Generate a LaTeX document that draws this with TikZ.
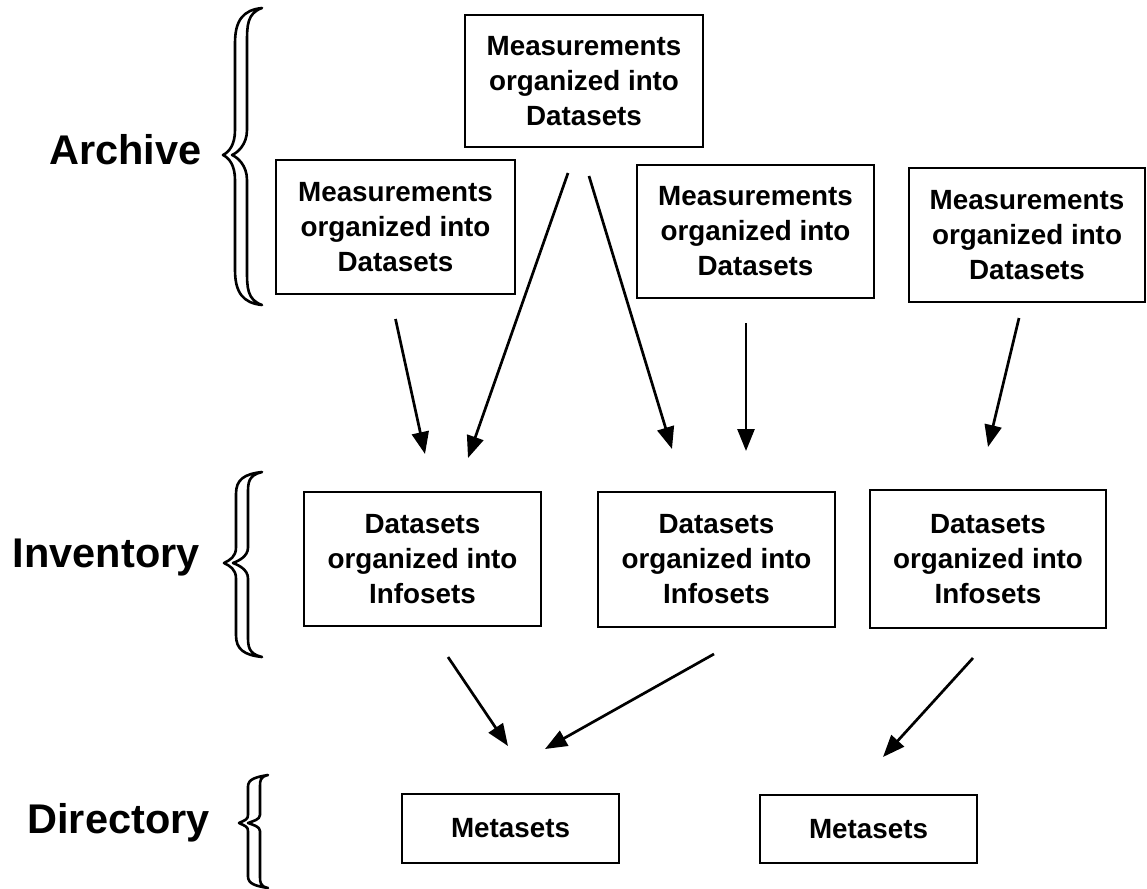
\documentclass[tikz,border=0pt]{standalone}
\usepackage{fontspec}
\setmainfont{Liberation Sans}
\usetikzlibrary{calc,arrows.meta}

% Hollow curly brace: tip x, top y, middle y, bottom y, spine x, middle tip x, half thickness
\newcommand{\hollowbrace}[7]{%
  \pgfmathsetmacro{\ba}{0.24*(#3-#2)}%
  \pgfmathsetmacro{\bb}{0.17*(#3-#2)}%
  \filldraw[bracestyle] (#1,#2)
    .. controls ({#5-#7+8},{#2+2}) and ({#5-#7},{#2+0.35*\ba}) .. ({#5-#7},{#2+\ba})
    -- ({#5-#7},{#3-\bb})
    .. controls ({#5-#7},{#3-0.4*\bb}) and ({#6+6},{#3-3}) .. (#6,#3)
    .. controls ({#6+6},{#3+3}) and ({#5-#7},{#3+0.4*\bb}) .. ({#5-#7},{#3+\bb})
    -- ({#5-#7},{#4-\ba})
    .. controls ({#5-#7},{#4-0.35*\ba}) and ({#5-#7+8},{#4-2}) .. (#1,#4)
    .. controls ({#5+#7},{#4-0.15*\ba}) and ({#5+#7},{#4-0.5*\ba}) .. ({#5+#7},{#4-\ba})
    -- ({#5+#7},{#3+\bb})
    .. controls ({#5+#7},{#3+0.4*\bb}) and ({#6+14},{#3+2}) .. ({#6+9},#3)
    .. controls ({#6+14},{#3-2}) and ({#5+#7},{#3-0.4*\bb}) .. ({#5+#7},{#3-\bb})
    -- ({#5+#7},{#2+\ba})
    .. controls ({#5+#7},{#2+0.5*\ba}) and ({#5+#7},{#2+0.15*\ba}) .. (#1,#2) -- cycle;}

\begin{document}
\begin{tikzpicture}[x=0.5pt,y=-0.5pt,
  box/.style={draw=black,line width=1pt,align=center,inner sep=0pt,
    font=\fontsize{13.9}{17.5}\selectfont\bfseries},
  layer/.style={anchor=east,inner sep=0pt,font=\fontsize{20.75}{24}\selectfont\bfseries},
  flow/.style={line width=1.35pt,-{Triangle[length=11pt,width=8.5pt]}},
  bracestyle/.style={draw=black,fill=white,line width=1.3pt,line join=round}]

\useasboundingbox (0,0) rectangle (1147,889);

% Layer labels and braces
\node[layer] (archive) at (202,150) {Archive};
\node[layer] (inventory) at (200,558) {Inventory};
\node[layer] (directory) at (210,823) {Directory};
\hollowbrace{262}{8}{155}{305}{241}{223}{6}
\hollowbrace{262}{472}{563}{657}{242}{224}{6}
\hollowbrace{268}{775}{823}{888}{254}{239}{6}

% Archive level
\node[box,minimum width=119pt,minimum height=66pt] (T) at (584,81)
  {Measurements\\organized into\\Datasets};
\node[box,minimum width=119.5pt,minimum height=67pt] (A1) at (395.5,227)
  {Measurements\\organized into\\Datasets};
\node[box,minimum width=118.5pt,minimum height=66.5pt] (A2) at (755.5,231.5)
  {Measurements\\organized into\\Datasets};
\node[box,minimum width=118pt,minimum height=67pt] (A3) at (1027,235)
  {Measurements\\organized into\\Datasets};

% Inventory level
\node[box,minimum width=118.5pt,minimum height=67pt] (I1) at (422.5,559)
  {Datasets\\organized into\\Infosets};
\node[box,minimum width=118.5pt,minimum height=67.5pt] (I2) at (716.5,559.5)
  {Datasets\\organized into\\Infosets};
\node[box,minimum width=118pt,minimum height=69pt] (I3) at (988,559)
  {Datasets\\organized into\\Infosets};

% Directory level
\node[box,minimum width=108.5pt,minimum height=34.5pt] (D1) at (510.5,828.5) {Metasets};
\node[box,minimum width=108.5pt,minimum height=34pt] (D2) at (868.5,829) {Metasets};

% Flows between levels
\draw[flow] ($(A1.south)+(0,24)$) -- ($(I1.north)+(2.5,-37)$);
\draw[flow] ($(T.south)+(-16,25)$) -- ($(I1.north)+(45.5,-33)$);
\draw[flow] ($(T.south)+(5,28)$) -- ($(I2.north)+(-44.5,-42)$);
\draw[flow] ($(A2.south)+(-9.5,24)$) -- ($(I2.north)+(29.5,-40)$);
\draw[flow] ($(A3.south)+(-8,15)$) -- ($(I3.north)+(0,-42)$);
\draw[flow] ($(I1.south)+(25.5,30)$) -- ($(D1.north)+(-2.5,-47)$);
\draw[flow] ($(I2.south)+(-2.5,26)$) -- ($(D1.north)+(34.5,-44)$);
\draw[flow] ($(I3.south)+(-15,29)$) -- ($(D2.north)+(14.5,-37)$);
\end{tikzpicture}
\end{document}
